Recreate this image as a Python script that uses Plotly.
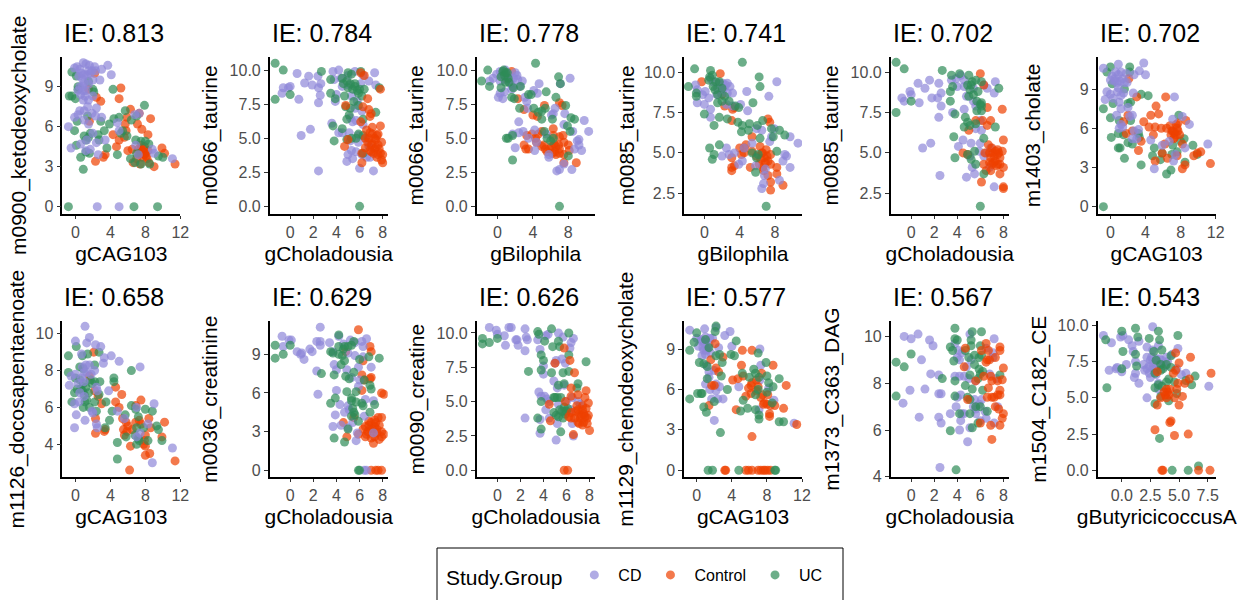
import plotly.graph_objects as go

GROUPS = ["CD", "Control", "UC"]
COLORS = {"CD": "#8F88D8", "Control": "#EE4000", "UC": "#2E8B57"}
TITLES = ["IE: 0.813", "IE: 0.784", "IE: 0.778", "IE: 0.741", "IE: 0.702", "IE: 0.702",
          "IE: 0.658", "IE: 0.629", "IE: 0.626", "IE: 0.577", "IE: 0.567", "IE: 0.543"]
X_NAMES = ["gCAG103", "gCholadousia", "gBilophila", "gBilophila", "gCholadousia", "gCAG103",
           "gCAG103", "gCholadousia", "gCholadousia", "gCAG103", "gCholadousia", "gButyricicoccusA"]
Y_NAMES = ["m0900_ketodeoxycholate", "m0066_taurine", "m0066_taurine", "m0085_taurine", "m0085_taurine", "m1403_cholate",
           "m1126_docosapentaenoate", "m0036_creatinine", "m0090_creatine", "m1129_chenodeoxycholate", "m1373_C363_DAG", "m1504_C182_CE"]

P01_CD = [(-0.1,10.4),(0.2,10.5),(0.5,10.3),(0.9,10.8),(1.2,10.7),(1.6,10.6),(2.2,10.5),(2.3,10.2),(3.0,10.3),(3.7,10.6),(4.1,9.9),(0.4,9.8),(0.8,9.6),(1.3,9.9),(1.7,10),(2,9.5),(2.8,9.5),(0.5,9.0),(1,9.3),(1.5,9.2),(0.3,8.7),(0.6,8.4),(0.9,8.0),(1.1,8.3),(1.5,8.0),(2.0,8.3),(2.4,7.4),(0.5,7.2),(1.0,7.2),(1.4,7.5),(1.9,7.0),(2.3,6.8),(3.0,6.7),(-0.1,6.7),(0.3,6.9),(1.0,6.5),(1.5,6.2),(-0.8,6.0),(1.3,5.0),(2.0,5.5),(3.4,5.0),(2.4,4.8),(1.7,4.3),(-0.5,4.4),(0.6,4.7),(1.2,4.2),(2.6,3.9),(4.8,6.3),(5,5.7),(7.3,7.0),(6.8,6.9),(6.9,4.6),(7.2,3.9),(8.8,4.3),(11.1,3.6),(9.0,4.0),(2.5,0),(5.0,0),(0.7,10.0),(1.0,9.9),(1.5,10.2),(1.9,10.2),(0.9,8.7),(1.2,8.7),(0.8,9.0)]
P01_CONTROL = [(2.2,10.0),(5.2,8.9),(5.0,8.1),(2.4,8.2),(2.9,7.9),(1.5,8.8),(6.3,7.3),(7.3,7.0),(8.6,6.6),(5.9,6.7),(5.7,6.2),(7.1,6.2),(1.6,6.4),(5.8,5.7),(7.6,5.8),(8.3,5.4),(4.3,5.4),(5.6,5.2),(5.0,5.0),(4.7,4.5),(6.0,4.2),(6.5,4.3),(7.2,4.3),(7.5,4.6),(7.8,4.3),(8.0,4.0),(8.3,4.2),(7.7,3.7),(8.2,3.6),(7.4,3.2),(7.0,3.6),(9,3.0),(8.4,3.3),(9.9,4.4),(10.2,4.0),(11.4,3.2),(3.4,3.9),(3.2,3.7),(2.3,3.4),(7.5,4.0),(7.9,3.9),(6.6,3.3),(7.5,4.3),(7.7,4.1),(8.1,3.8),(7.3,3.9),(7.9,4.5)]
P01_UC = [(-0.4,10.1),(2.0,8.8),(2.1,8.6),(4.3,8.8),(-0.7,8.3),(-0.4,8.3),(0,8.1),(0.3,8.8),(0.3,9.0),(1.5,9.4),(0.1,9.8),(7.9,7.6),(5.7,7.2),(6.4,6.5),(7.0,6.8),(4.4,6.6),(5.0,6.7),(0.2,6.4),(2.9,6.4),(1.4,6.8),(-0.1,5.7),(1.7,5.5),(2.6,5.4),(3.3,5.7),(3.9,6.2),(5.2,5.5),(5.4,5.7),(5.9,5.3),(1,5.3),(1.2,5.0),(1.5,5.2),(2.7,5.0),(0.1,4.6),(3.6,4.4),(1.2,4.1),(0.6,3.7),(1.6,4.0),(0.9,2.8),(4.8,3.9),(6.3,3.6),(6.8,3.3),(7.0,4.0),(7.5,3.2),(6.9,5.0),(7.5,4.9),(8,4.9),(8.4,4.7),(9.5,3.8),(10,3.7),(8.5,3.2),(-0.8,0),(6.7,0),(9.4,0)]

P02_CD = [(0.6,9.75),(1.6,9.55),(-0.7,8.3),(-0.6,8.7),(-0.15,8.7),(0,8.8),(0.75,7.85),(1.25,9.05),(1.9,8.9),(2.4,9.55),(2.65,9.0),(2.45,8.7),(2.6,8.15),(2.45,7.6),(0.95,5.2),(1.75,5.65),(2.45,2.6),(3.7,9.9),(4.2,10),(4.4,9.4),(5,9.6),(5.6,9.9),(6.3,9.6),(7.3,9.8),(6.8,9.2),(7.4,8.9),(3.8,9.3),(4.5,8.8),(5.1,8.9),(6.1,9.0),(4,8.2),(3.9,7.7),(5.3,8.1),(5.8,7.7),(5.6,7.2),(6.2,7.0),(5.2,6.5),(5.4,6.2),(5.7,6.3),(3.6,6.1),(6.3,6.0),(4.5,5.4),(5.1,5.4),(4.2,5.4),(5.9,5.2),(5.2,4.8),(5.9,4.7),(5.3,4.1),(5.7,4.0),(5.0,3.8),(4.9,3.3),(5.4,3.5),(6.2,3.8),(6.6,3.6),(6.9,3.6),(6,2.8),(7.2,2.6),(6.5,5),(6.8,4.4)]
P02_CONTROL = [(6.1,9.8),(6.4,9.6),(7.8,8.6),(6.7,7.9),(4.8,7.4),(6.3,7.3),(6.8,7.1),(7.0,6.8),(6.9,6.6),(6.1,6.2),(7.1,5.8),(6.6,5.6),(7.8,5.9),(6.5,5.0),(6.9,5.4),(7.3,5.0),(7.6,5.3),(7.9,4.7),(4.7,4.4),(5,4.9),(7,4.5),(7.4,4.3),(7.6,4.5),(6.5,4.3),(7.2,3.9),(7.8,3.9),(8.0,3.8),(7.9,3.4),(8,3.2),(6.2,3.2),(7.5,3.6),(6.2,3.9),(7,4.0),(6.8,5.0),(7.1,4.6),(7.4,4.9),(7.7,4.2),(7.3,4.2),(6.9,4.1),(7.5,5.2),(6.7,4.7),(7.1,5.3),(7.6,3.8)]
P02_UC = [(-1.3,10.5),(-0.6,10),(2.7,9.9),(5,9.8),(5.3,9.7),(6.1,9.9),(3.5,9.3),(4.5,9.4),(4.9,9.2),(5.6,9.0),(5.4,8.6),(6,8.6),(6.4,8.6),(5,8.7),(7.7,8.7),(-1.3,7.85),(0,8.2),(3.5,8.3),(4.7,8.1),(3.9,7.9),(4.8,7.3),(5.2,7.2),(5.5,7.7),(5.9,7.4),(5.1,6.7),(4.9,6.4),(6.3,6.4),(7.4,6.9),(3.7,5.9),(4.5,5.7),(5.3,5.0),(4.9,4.9),(5.7,5.0),(5.9,5.3),(6.3,5.2),(3.8,4.8),(6.3,3.9),(6,0),(5.6,8.8),(5.9,8.3),(6.2,8.1),(5.8,8.5),(5.2,9),(4.6,9.0)]

P03_CD = [(-0.9,9.2),(-0.5,9.4),(-0.1,9.7),(0.3,9.9),(0.9,10),(1.2,9.7),(2.0,9.8),(2.2,9.6),(2.8,9.2),(1.5,9.0),(0.8,9.3),(0.3,9.2),(1.7,8.8),(2.5,8.8),(0.1,8.0),(0.3,8.3),(0.6,7.9),(0.8,8.4),(1.6,8.6),(3.1,8.0),(3.3,7.7),(3.4,7.2),(4.1,8.5),(4.7,9.0),(4.5,8.3),(7.1,9.0),(8.2,9.4),(6.5,7.2),(6.3,6.8),(7.6,6.8),(7.5,6.0),(10.3,5.5),(9.8,6.3),(6.1,6.7),(8.5,5.5),(2.4,6.2),(2.4,5.4),(1.7,5.3),(2.9,5.5),(4.2,5.6),(3.5,5),(4.4,4.7),(2.0,4.3),(4.2,4.1),(5.5,5.3),(8.7,4.2),(9,4.8),(9.2,4.9),(9.5,4.1),(9.2,4.5),(5.8,3.8),(5.8,3.6),(6.7,2.6),(7,2.7),(8.4,2.7),(7.5,3.1),(1,9.5),(0.5,9.6),(1.4,9.3),(1.8,9.4),(2.3,9.3)]
P03_CONTROL = [(1.6,9.9),(1.0,9.4),(2.3,7.9),(3.0,7.1),(7,7.6),(7.3,7.4),(5.3,7.4),(4,6.7),(4.5,6.6),(3.9,5.3),(3.3,5.2),(4.3,5.0),(6.3,5.7),(6.3,5.2),(7,5.1),(7.4,5.2),(5,5.5),(4.6,5.3),(3,4.5),(3.2,4.2),(3.5,4.2),(4.4,4.7),(5,4.4),(5.4,4.2),(5.9,4.2),(6.4,4.6),(6.2,3.9),(7,4.2),(7.5,4.7),(8,4.5),(6.6,3.8),(7.5,3.8),(8.1,4.1),(7.5,3.2),(8.9,3.2),(7,3.9),(5.6,4.0),(6.1,4.4),(6.6,4.4),(6.5,4.0),(5.2,4.5),(6.9,4.5)]
P03_UC = [(-1.8,9.2),(-1.1,10),(-0.9,8.8),(0.7,10),(0.9,9.8),(0.4,9.5),(0.9,9.1),(1.2,9.4),(0.4,8.7),(2.6,8.8),(1.6,8.0),(1.9,7.9),(3.5,8.2),(3.8,8.2),(4.3,10.5),(6.9,9.5),(7.1,9.0),(5.5,8.4),(6.6,8.0),(7.7,7.4),(2.5,7.2),(4.1,7.2),(4.6,6.9),(5.0,7.0),(5.4,7.2),(5.0,6.4),(6.2,6.4),(8.3,6.5),(8.7,6.4),(7.9,5.9),(8.2,5.5),(1.7,5.2),(1.0,5.0),(1.2,5),(5.3,5.5),(5.6,5.0),(6,4.8),(6.3,5),(8,3.7),(1.7,3.4),(7,0),(0.6,9.9),(0.8,9.6),(1.1,9.8),(1.3,9.1),(1.8,8.7)]

P04_CD = [(-1,9.2),(-0.8,8.9),(-0.2,8.6),(0.1,8.8),(0.7,9.6),(1.0,9.4),(1.7,9.3),(2.4,9.2),(2.9,9.1),(3.2,8.7),(2,8.9),(2.6,8.7),(1.4,8.6),(-0.8,8.1),(0,8),(0.5,8.4),(0.7,7.7),(0.7,7.2),(3.2,7.9),(4.1,8.0),(4.9,7.6),(4.8,8.8),(7.3,8.5),(8.2,9.4),(2.5,8),(5.9,6.5),(6.5,6.4),(7.6,6.0),(7.4,5.7),(9.7,6.0),(10.6,5.6),(7.9,6.5),(2.5,5.3),(2.8,4.9),(3.4,5.0),(2.0,4.8),(4.5,5.3),(5.4,5.6),(4.3,4.5),(3.9,4.3),(5.8,4.2),(6.8,3.6),(6.7,3.1),(6.5,2.8),(8.5,3.3),(9.1,4.9),(9.3,4.8),(9.7,4.1),(8.9,4.5),(6.9,4.0),(1.5,9.0),(2.1,9.3),(2.6,9.3),(1.9,8.7),(2.2,9.0)]
P04_CONTROL = [(1.8,9.9),(-0.3,9.4),(2.0,8.6),(2.3,7.9),(3.2,7.7),(3.4,7.8),(3.1,7.0),(7.2,7.1),(7.4,6.9),(5.4,6.0),(4.7,5.5),(4.5,5.0),(4.0,5.3),(6.3,5.4),(6.5,5.0),(7.5,4.9),(6.8,4.7),(3.1,4.7),(4.2,4.9),(5.4,5.1),(5.9,4.8),(3.1,4.1),(3.1,3.9),(3.4,4.2),(5.2,4.1),(6.2,4.3),(7.5,4.3),(7.2,4.5),(8.2,4.1),(8.2,3.7),(7.2,3.6),(7.5,3.2),(8.9,3.0),(7.5,2.7),(6.6,4.1),(6.7,3.9),(6.6,5),(7,5.2),(6.9,4.4),(6.4,4.6),(7.1,4.8),(4.5,5.3)]
P04_UC = [(-1.8,9.1),(-1.1,10.2),(0.7,10.1),(-0.9,8.7),(-0.9,8.5),(0.5,9.5),(1.0,9.1),(1.7,9.4),(2.0,9.0),(1.5,8.6),(2.3,8.5),(4.3,10.6),(6.2,9.7),(6.3,9.1),(5.5,8.1),(1.5,8.1),(2.0,8.2),(2.8,8.2),(3.5,7.9),(3.9,7.8),(0,7.4),(1.7,7.2),(2.6,7.1),(1.1,6.7),(3.8,6.9),(4.3,6.7),(4.2,6.3),(5.1,6.8),(5.0,6.4),(6,6.7),(6.6,7.0),(7.6,6.5),(8.5,6.4),(9.1,6.1),(7.8,6.0),(6.3,5.9),(1.7,5.5),(0.6,5.3),(1.1,4.9),(0.9,4.6),(5.4,5.0),(5.9,4.7),(6.1,4.9),(8.2,5.1),(5.8,3.8),(7,1.7),(0.9,9.8),(0.6,9.7),(1.3,9.4),(1.2,8.9)]

P05_CD = [(-0.8,8.4),(-0.6,8.2),(-0.1,8.8),(0,8.6),(0.6,9.3),(1.6,9.5),(1.2,9.0),(2.4,9.3),(2.6,8.7),(1.8,8.4),(2.3,8.4),(0.7,8.1),(2.6,7.9),(2.4,7.2),(1.0,5.3),(1.7,5.6),(2.5,3.6),(3.5,9.5),(3.9,9.6),(4.3,9.8),(4.6,9.5),(4.0,9.1),(4.6,9.1),(5.4,9.0),(6.3,9.2),(6.6,9.0),(7.3,9.4),(7.2,8.7),(4.8,8.5),(5.4,8.2),(4.6,7.7),(3.6,7.5),(5.6,7.9),(6.0,7.0),(6.1,6.4),(5.6,6.5),(4.5,5.8),(5.2,5.6),(5.9,5.1),(4.1,5.4),(5.1,4.8),(6.3,4.8),(5.3,4.1),(5.5,3.7),(4.8,3.5),(6.8,4.1),(7.2,2.9),(6.9,5.3),(6.5,5.0),(6.0,5.6)]
P05_CONTROL = [(6,9.9),(6.3,9.2),(7.9,7.7),(6.6,7.8),(5.6,7),(6.2,7),(6.9,7.0),(6.6,6.7),(5,6.4),(8.0,5.8),(6.7,5.5),(7.1,5.0),(7.6,5.0),(7.9,5.1),(4.5,5.0),(4.9,4.9),(6.4,5.0),(6.9,4.7),(7.3,4.5),(7.7,4.7),(7.5,4.3),(8.0,4.1),(7.7,3.7),(6.9,3.9),(6.3,4.3),(6.1,3.2),(8.0,2.9),(8,2.8),(7.0,4.3),(6.5,3.9),(7.0,5.3),(7.3,5.1),(7.5,4.9),(7.2,4.8),(6.8,5.0),(7.4,4.2),(7.7,4.3),(7.1,4.4),(6.8,4.4),(7.5,5.2)]
P05_UC = [(-1.3,10.6),(-0.6,10.2),(2.7,10.1),(3.5,9.8),(4.2,9.9),(5.0,9.8),(6.1,9.4),(5.3,9.4),(4.9,9.2),(3.6,9.1),(7.6,9.0),(5.8,8.8),(3.4,8.8),(5,8.5),(5.4,8.6),(6.0,8.0),(6.1,8.1),(5.7,7.6),(6.1,7.6),(-1.3,7.5),(0,8.2),(3.4,8.2),(3.8,7.4),(4.7,7.2),(4.9,6.9),(5.1,6.7),(4.6,6.6),(5.6,6.8),(7.3,6.6),(6.3,5.9),(3.7,6.0),(3.8,4.7),(5.5,5.1),(4.9,4.9),(5.2,4.6),(5.6,4.3),(6.3,3.7),(6,1.7),(5.2,9.2),(5.6,9.5),(5.1,8.9),(5.7,8.2),(6.1,7.9)]

P06_CD = [(-0.8,10.6),(0.9,10.9),(3.8,11),(3.3,10.4),(4,10.1),(0.2,10.0),(0.6,10.3),(1.2,10.3),(1.8,10.2),(2.7,10.1),(0,9.7),(0.8,9.5),(1.4,9.8),(1.9,9.5),(-0.4,8.8),(0,8.6),(0.8,8.8),(1.5,8.7),(2.6,8.7),(-0.6,8.2),(0.3,8.3),(1.0,8.0),(2,7.6),(1.2,7.5),(0.7,7.0),(2.5,7.0),(2.2,6.9),(1.2,6.3),(1.0,6.0),(1.4,6.1),(2.7,5.8),(3.2,5.9),(2.5,5.2),(3.0,5.2),(7.3,8.4),(8.2,6.9),(9,6.3),(4.6,5.1),(5.9,4.7),(6.7,5),(8.5,4.5),(11.1,4.8),(7.4,4.0),(7.2,3.5),(5.0,2.9),(7.1,6.7),(0.5,9.8),(0.9,10.1),(1.1,9.6),(1.6,9.5),(0.9,9.1),(1.2,8.5),(0.5,9.6)]
P06_CONTROL = [(2.1,9.8),(6.3,8.4),(3,8.4),(5.2,7.7),(2.0,7.0),(5.5,7.1),(4.6,7.0),(3.8,6.5),(1.5,6.5),(8.6,6.6),(7.7,6.4),(4.4,6.1),(5.1,6.1),(5.8,6.0),(6.4,6),(7.1,5.8),(7.6,6.0),(1.8,5.6),(2.5,5.8),(6.9,5.5),(7.3,5.3),(7.9,5.5),(4.9,5.5),(3.5,5),(6.2,4.8),(5.9,4.1),(3.2,4.3),(8.2,4.8),(9.5,3.9),(9.9,4.1),(10.3,4.2),(11.4,3.3),(5.1,3.5),(6.5,3.7),(8.5,3.2),(8.2,2.9),(7.6,3.9),(7,5.8),(7.3,5.7),(7.5,5.5),(7.2,5.2),(6.8,6.2),(7.7,5.8),(7.5,6.3)]
P06_UC = [(0,10.7),(-0.4,10.3),(2.2,10.7),(2.2,10.3),(0.2,9.4),(1.6,9.0),(3.5,8.6),(4.3,8.5),(2.3,8.0),(2.0,7.9),(0.3,7.9),(-0.8,7.5),(0,6.8),(1,6.6),(2.3,6.6),(0.1,5.3),(0.9,5.6),(1.5,5.5),(3.2,5.6),(3.3,5.3),(2,4.9),(2.5,4.8),(1.1,4.5),(0.9,4.5),(1.6,3.7),(3.5,3.2),(5,4.5),(4.8,3.9),(5.9,4.1),(5.7,3.6),(7.8,7.0),(6.4,2.5),(6.9,2.8),(7.1,4.7),(8,5),(8.4,5.2),(9.4,4.7),(9.9,4.0),(8.5,3.4),(7.6,4.2),(-0.8,0),(7,4)]

P07_CD = [(1.1,10.4),(1.6,9.8),(0,9.6),(1.3,9.5),(2.3,9.4),(2.9,9.3),(3.3,8.7),(4.1,8.8),(5.0,8.5),(7.4,8.2),(3.2,8.4),(0.7,8.9),(1.2,8.3),(1.6,8.3),(2.2,8.0),(-0.5,7.7),(0,7.8),(0.3,7.3),(-0.7,7.2),(1,7.4),(2.4,7.1),(3.8,6.9),(0.5,6.8),(1,6.6),(2.5,6.9),(-0.1,6.2),(0.4,6.3),(1.9,5.8),(2.0,5.7),(0.1,5.6),(1.1,5.3),(-0.1,4.9),(2.4,5.1),(2.5,4.9),(4.8,5.8),(5.6,5.4),(7,6),(9.0,6.2),(8.3,5.1),(7.0,4.4),(7.4,4.6),(11.1,3.8),(8.8,3.0),(0.8,8.2),(1.3,7.9),(1.0,7.9),(0.7,7.6),(1.8,7.8)]
P07_CONTROL = [(2.1,9.0),(4.6,7.1),(5.3,6.7),(4.6,6.3),(5.0,6),(3,6.2),(2.6,6.6),(1.6,7.7),(2.2,6.9),(7.5,6.4),(6.9,6.1),(5.4,5.4),(5.8,5.2),(7.3,5.3),(8.4,5.4),(10.2,5.2),(5.5,4.8),(6.5,4.8),(8.6,4.9),(5.6,4.5),(3.4,4.8),(3.3,4.7),(2.3,4.6),(7.9,4.2),(8.0,3.9),(6.3,3.9),(7.8,4.0),(9.9,4.4),(8.5,3.5),(8.0,3.4),(11.4,3.1),(6.2,2.6),(2.3,5.4),(6.9,5.2),(5.9,4.7),(7.5,5.1),(8,4.5),(6.0,5.0)]
P07_UC = [(-0.8,8.8),(0.1,9.3),(0.8,8.8),(1.4,8.9),(2.7,9.0),(6.4,8.0),(-0.8,7.9),(0.5,8.2),(0.9,8.1),(2.2,8.3),(4.4,7.6),(0.0,7.6),(0.2,7.0),(1.7,7.5),(2.2,7.4),(2.8,7.4),(4.4,7.4),(0.8,6.9),(1.5,6.8),(2.7,6.7),(-0.1,6.8),(1.0,6.7),(-0.4,6.3),(0.9,6.0),(1.3,6.4),(3.5,6.3),(2.4,5.8),(4.2,5.8),(3.9,5.3),(3.4,4.9),(5.7,5.6),(6.4,6.1),(6.9,5.9),(8.0,5.9),(8.8,5.8),(7.2,5.5),(9.3,5.0),(9.5,4.8),(7,4.9),(5.8,4.4),(7.2,4.3),(8.3,4.2),(7.0,4.0),(9.9,4.2),(4.8,4.1),(4.8,3.2),(0.5,7.5),(0.9,7.3),(1.2,7.1),(1.9,7.3),(0.6,7.0),(1.1,6.3),(1.6,6.0),(2.2,6.3),(7.3,4.2),(6.8,4.5),(7.8,4.9)]

P08_CD = [(-0.6,9.6),(-0.7,10.4),(-0.1,10.1),(0.1,10.1),(0.6,9.2),(0.9,9.0),(1.0,9.1),(1.2,8.6),(1.7,9.4),(1.9,9.2),(2.3,10),(2.6,10),(2.6,9.7),(2.6,11.1),(3.4,9.9),(2.3,7.7),(2.4,5.9),(3.7,9.2),(4.2,10.4),(4.6,9.8),(5.2,10.1),(5.6,9.9),(6.2,10.0),(6.6,10.2),(6.3,9.6),(5,9.1),(5.6,8.9),(6.3,8.8),(3.8,8.2),(4,7.8),(4.9,7.8),(5.9,8.0),(7,8.0),(5.3,7.2),(6.0,7.0),(5.9,6.5),(4,6.2),(4.3,5.1),(6.5,5.5),(7.2,5.4),(5,5.0),(4.7,4.5),(5.1,4.7),(3.9,4.3),(6.4,4.2),(5.4,3.7),(4.4,3.5),(3.7,3.4),(5,3.3),(5.8,2.9),(5.7,2.3),(7.2,2.9),(6.4,0),(6.6,0)]
P08_CONTROL = [(5.9,10.9),(6.9,9.6),(7,9.2),(4.8,9.2),(6.3,8.5),(6.2,7.4),(6.4,7.0),(6.9,7.1),(7.0,7.2),(7.9,6.0),(8.1,5.9),(6.2,6.2),(4.6,3.7),(5.5,4.1),(4.9,2.6),(5.9,2.8),(6.5,3.4),(6.5,2.6),(7,3.7),(7.4,3.7),(7.6,4.1),(7.9,4.1),(6.9,3.2),(7.5,3.2),(7.9,3.0),(8.1,2.8),(7.3,2.6),(7.7,2.4),(7.2,2.1),(6.6,2.8),(7,0),(7.4,0),(7.6,0),(7.9,0),(6.8,3.5),(6.3,3.2),(6.7,3.0),(7.1,3.2),(7.3,3.4),(7.5,2.9),(7.7,3.5),(7.9,2.6),(7,2.5),(6.8,3.8),(7.3,3.9)]
P08_UC = [(-1.3,9.7),(-1.3,8.7),(-0.6,9.0),(0,9.7),(2.7,7.5),(3.5,9.2),(3.7,9.1),(4.2,9.6),(4.2,10.5),(4.7,9.6),(5.3,9.7),(5.5,10),(4.5,8.9),(4.7,8.5),(6.0,8.6),(7.7,8.7),(6.8,8.8),(4.4,8.2),(3.8,7.4),(4.8,7.3),(5.1,7.1),(5.5,7.6),(6.4,7.0),(6.9,6.6),(7.0,6.3),(4.9,6.1),(5.7,6.1),(5.3,5.6),(3.9,5.6),(3.5,5.2),(5.7,5.3),(5.4,4.8),(6.2,5.2),(7.3,5.1),(6.9,4.5),(5.3,4.2),(5.6,4.3),(5.9,3.8),(5.0,3.2),(4.7,2.2),(3.8,2.5),(6,0),(5.9,0),(4.6,9.4),(5.0,9.6),(4.2,9.0),(5.3,5.4),(5.5,4.5),(6.3,5.0)]

P09_CD = [(-0.7,10.4),(-0.1,10.2),(0,9.9),(0.6,9.8),(1,10.4),(1.2,10.4),(1.6,9.5),(1.7,9.5),(0.7,9.1),(1.8,9.1),(2.4,8.7),(2.4,10.3),(2.5,9.7),(2.6,9.5),(3.5,9.5),(3.7,8.8),(4.2,9.8),(4.4,9.9),(5.3,10),(5.7,9.7),(6.6,9.6),(6.4,9.3),(6.3,8.9),(5.1,8.0),(5.0,7.8),(5.6,8.1),(5.9,7.8),(4.0,7.6),(4,7),(4.9,6.5),(5.2,6.0),(5.8,6.2),(6.5,5.3),(3.6,5.7),(3.8,5.4),(4.1,5.4),(4.3,5.2),(4.5,5),(6,5.0),(7,5.0),(5.3,4.8),(4.2,4.4),(2.4,3.8),(4.5,3.8),(3.7,3.7),(5.2,3.4),(3.7,2.7),(5.1,2.2),(6.6,2.5),(6.5,3.4),(5.8,4.3),(6.4,4.4),(7.2,4.8)]
P09_CONTROL = [(5.8,8.9),(6.3,8.0),(5,7.8),(6.7,7.1),(6.4,6.0),(7.0,5.5),(7.7,5.8),(7.6,5.3),(7.9,4.9),(7.4,4.7),(6.4,5.4),(5.9,5.0),(4.5,4.8),(7,4.4),(7.5,4.1),(7.9,4.0),(7.3,4.0),(6.2,3.9),(6.7,3.8),(7.0,3.5),(7.5,3.5),(7.8,3.4),(7.4,3.3),(8,2.9),(6.6,2.6),(4.6,3.6),(5.8,0),(6.1,0),(6.4,4.2),(6.8,4.3),(7.1,4.1),(7.4,4.4),(7.6,3.9),(7.2,3.8),(6.9,4.7),(7.7,4.5),(7.8,3.8),(6.4,3.8),(7.1,3.4)]
P09_UC = [(-1.3,9.6),(-1.3,9.2),(-0.7,9.3),(0,9.6),(2.7,7.2),(3.8,7.3),(3.5,10.1),(4.7,10.3),(6.2,10.0),(3.6,9.9),(4.1,9.4),(4.8,9.0),(5.3,9.4),(5.4,9.0),(3.8,8.4),(6.2,8.4),(4.0,8.0),(7.7,7.9),(6.2,7.2),(4.7,7.1),(5.7,7.1),(5.3,6.2),(5.8,6.3),(7,6.3),(6.9,6.0),(5,5.3),(5.5,5.3),(3.8,5.0),(4.9,4.2),(5.8,4.6),(6.1,4.5),(5.3,3.9),(5.7,3.8),(3.5,3.8),(3.8,3.0),(5.5,2.8),(5.6,4.3),(5.9,4.1),(5.1,4.0),(5.4,4.4),(6.0,4.3),(4.9,5.3),(5.2,5.3)]

P10_CD = [(-0.8,10.4),(0.9,10.5),(2.2,10.6),(3.8,10.3),(3.2,10),(0,9.8),(0.5,9.7),(1,9.9),(1.8,9.8),(4,9.2),(0.2,9.2),(0.8,8.9),(1.4,9.3),(2.5,9.1),(0.6,8.5),(1,8.6),(7.2,9.0),(7.3,7.8),(1.1,7.8),(1.4,7.3),(2,7.4),(1,6.4),(2.2,6.4),(2.6,6.2),(1.5,6),(2.2,5.9),(3,5.3),(2.4,5.3),(1.7,5.3),(2.0,3.7),(4.8,6.2),(8.8,5.2),(7.1,4.5),(11.1,3.5),(8.2,6.1),(7.2,6.7),(1.4,6.9),(0.5,9.6),(0.9,9.4),(1.2,9.0),(1.5,9.8),(1.1,8.9),(0.7,9.1),(1.6,8.7),(1.0,9.5)]
P10_CONTROL = [(2.1,9.4),(5.2,8.9),(6.3,8.9),(3.0,8.4),(1.6,8.2),(5.1,7.8),(8.7,7.8),(2.2,7.6),(2.5,7.3),(7.4,7.2),(2.0,6.3),(1.7,6.3),(4.1,6.7),(4.7,6.8),(5.3,7),(6.2,6.3),(6.8,6.7),(5.9,6.1),(10.2,6.3),(8.1,5.6),(5.6,5.5),(6.2,5.7),(7.3,5.4),(7.7,5.0),(8.0,4.9),(1.4,4.8),(4.5,4.5),(8.4,4.8),(8.9,4.8),(9.9,4.6),(8.3,4.2),(8.3,4.0),(11.4,3.4),(6.3,2.5),(3.2,0),(3.3,0),(5.6,0),(5.9,0),(6.3,0),(7.0,0),(7.3,0),(7.6,0),(7.8,0),(8.1,0),(8.4,0),(6.8,5.9),(7.5,5.6),(7.0,6.2),(6.3,6.5),(7.6,4.9)]
P10_UC = [(0,10.2),(2.2,10.7),(2.1,10.3),(-0.8,8.9),(-0.3,9.5),(1.0,9.7),(1.4,9.1),(4.5,9.6),(3.9,8.6),(4.3,8.5),(2.2,8.5),(2.6,8.6),(2.9,8.0),(0.3,8.0),(0.8,7.9),(1.2,7.7),(7.0,8.7),(7.9,8.0),(6.5,7.5),(5.2,7.2),(6.7,7.2),(1.2,6.8),(2.8,7.0),(6.0,6.9),(7.1,6.9),(8,7.0),(9.4,6.8),(8.2,6.5),(8.7,6.2),(3.5,6.0),(7.0,6.0),(6.7,5.6),(8,5.8),(-0.8,5.3),(0.1,5.7),(0.5,5.7),(0.6,5.7),(2,5.1),(5.3,5.2),(8.6,5.0),(0.8,4.7),(1.1,4.3),(5.8,4.6),(5,4.4),(6.7,4.5),(7.1,4.1),(7.1,3.8),(9.4,3.6),(9.9,3.6),(2.7,2.8),(1.3,0),(1.8,0),(4.8,0),(8.9,0),(9,0)]

P11_CD = [(-0.6,10),(0,9.9),(0.6,10.1),(1.6,9.85),(1.9,9.6),(0.9,9.0),(1.7,8.4),(2.4,8.35),(-0.1,7.7),(1.2,7.75),(2.4,7.55),(2.6,7.55),(-0.7,7.15),(0.7,6.55),(2.4,6.55),(2.6,6.3),(2.5,4.4),(3.8,9.7),(4.1,9.4),(4.4,9.3),(5.1,10.1),(6.5,9.5),(7.2,9.9),(7.1,9.3),(4.8,8.7),(5.2,9.0),(7.1,9.1),(3.8,8.3),(4.2,8.3),(4.6,8.3),(6.8,8.4),(7.4,8.2),(5,8.2),(5.6,8.1),(4.0,7.4),(4.3,7.5),(3.9,7.0),(3.4,6.7),(4.4,6.7),(4.6,6.7),(5.4,7.0),(5.9,7.1),(6.1,7.3),(4.3,6.4),(5.6,6.9),(6.4,6.8),(6.5,6.5),(7.2,6.3),(7.5,7.0),(4.2,6),(5.1,6.1),(4.9,5.5),(6.0,6.4),(5.5,7.3),(4.0,9.1),(4.2,9.0),(5.6,6.7)]
P11_CONTROL = [(4.7,9.5),(6.1,9.4),(6.5,9.7),(6.7,9.4),(7.7,9.55),(7.7,9.4),(6.6,9.0),(7.3,9.1),(8.0,8.65),(6.9,8.3),(5.6,8.1),(6.3,8.3),(6.7,7.8),(7.5,8.1),(7.9,8.15),(7.7,7.7),(6.6,7.4),(7.0,7.4),(7.7,7.5),(7.3,7.0),(7.6,6.9),(8.0,6.7),(6.0,6.3),(7.9,6.5),(7.7,6.2),(6.9,6.2),(7,5.6),(4.9,7.3),(7.2,7.4),(4.6,8.7),(6.8,9.0),(7.0,8.1),(7.5,7.5),(6.5,8.9)]
P11_UC = [(-1.3,8.9),(-0.6,8.7),(0,9.25),(-1.3,7.45),(2.7,8.2),(3.8,10.35),(5.3,10.2),(6.1,10.2),(3.8,9.9),(4,9.85),(5.2,9.85),(3.4,9.55),(3.6,9.4),(4.7,9.4),(6,9.6),(5.0,9.1),(6.1,9.2),(3.7,8.95),(5.5,8.8),(5.9,8.6),(6.2,8.5),(3.8,8.1),(5.1,8.35),(7.7,8.35),(4.7,7.9),(5.3,7.75),(6.2,7.7),(3.8,7.45),(4.9,7.4),(5.6,7.0),(6.0,7.0),(4.2,6.7),(5.1,6.7),(6.6,6.8),(3.4,5.97),(5.3,6.1),(5.8,6.3),(3.9,4.3),(5.9,9.1),(5.2,9.6),(5.5,9.2),(5.8,8.2),(6.0,8.4),(5.1,7.3)]

P12_CD = [(-1.6,9.3),(-0.9,8.8),(-0.1,9.2),(0.1,9.3),(2.7,9.9),(0.6,9),(0.9,8.6),(1.0,8.2),(1.5,8.9),(2.2,8.5),(2.7,8.3),(4.9,8.4),(3.2,8.6),(3.9,7.8),(4.4,8.0),(2.2,7.8),(2.5,7.6),(3,7.7),(3.3,7.4),(4,7.5),(1.2,7.5),(0.4,7.3),(-0.4,7.1),(-0.5,7.0),(-1.1,6.9),(0,6.8),(1.2,6.7),(1.1,6.4),(2,6.9),(2.4,6.7),(2.7,7.0),(3,6.6),(1.5,6),(2.5,6.4),(3.2,6.0),(5.2,6.6),(5.6,6.7),(7.6,5.8),(3.2,5.6),(2.2,5.0),(4.8,7.0),(1.9,7.3),(2.4,7.2),(2.7,7.4),(3.0,7.2),(2.2,7.0),(3.3,7.7),(2.6,7.8),(2.9,6.9),(3.5,7.6),(3.8,7.2)]
P12_CONTROL = [(6.0,7.8),(7.8,6.7),(5,7.4),(4.7,8.1),(4.7,6.9),(4.5,6.7),(5.9,6.3),(3.1,6.8),(3.9,5.6),(3.7,5.4),(4.1,5.2),(3.9,5.0),(3.4,5.0),(4.8,5.6),(4.6,5.0),(5.3,5.1),(3.1,4.5),(5.0,4.5),(4.2,3.3),(4.3,3.4),(2.9,2.8),(4.6,2.4),(5.8,2.5),(3.5,0),(3.6,0),(6.7,0),(7.7,0),(5.5,6.0),(4.9,6.0),(3.8,5.2),(4,5.4),(4.2,5.6)]
P12_UC = [(-1.4,9.0),(0,9.6),(1.2,9.8),(3.2,9.6),(4.9,9.3),(1.4,9.2),(2.4,9.1),(3.3,9.0),(0.1,8.2),(1.2,8.0),(2.8,8.2),(3.5,8.3),(-1.3,5.7),(0,7.0),(1.3,7.2),(4.3,7.9),(3.4,7.3),(3.9,7.3),(2.9,6.7),(3.4,6.9),(4.1,6.3),(5.6,6.2),(6.4,6.5),(6.1,5.9),(2.9,5.7),(3.5,5.8),(4.8,5.3),(3.4,5.1),(4.1,4.8),(2.9,4.6),(3.3,2.2),(4.4,0),(5.8,0),(6.7,0.3),(3.9,6.1),(3,7.6),(4.6,6.1),(3.6,7.0),(4.3,7.1),(3.2,5.9)]

SERIES = [
    {"CD": P01_CD, "Control": P01_CONTROL, "UC": P01_UC},
    {"CD": P02_CD, "Control": P02_CONTROL, "UC": P02_UC},
    {"CD": P03_CD, "Control": P03_CONTROL, "UC": P03_UC},
    {"CD": P04_CD, "Control": P04_CONTROL, "UC": P04_UC},
    {"CD": P05_CD, "Control": P05_CONTROL, "UC": P05_UC},
    {"CD": P06_CD, "Control": P06_CONTROL, "UC": P06_UC},
    {"CD": P07_CD, "Control": P07_CONTROL, "UC": P07_UC},
    {"CD": P08_CD, "Control": P08_CONTROL, "UC": P08_UC},
    {"CD": P09_CD, "Control": P09_CONTROL, "UC": P09_UC},
    {"CD": P10_CD, "Control": P10_CONTROL, "UC": P10_UC},
    {"CD": P11_CD, "Control": P11_CONTROL, "UC": P11_UC},
    {"CD": P12_CD, "Control": P12_CONTROL, "UC": P12_UC},
]
DRAW_ORDERS = [
    ("Control", "UC", "CD"), ("CD", "UC", "Control"), ("Control", "CD", "UC"), ("Control", "CD", "UC"),
    ("CD", "Control", "UC"), ("UC", "Control", "CD"), ("Control", "UC", "CD"), ("Control", "CD", "UC"),
    ("CD", "UC", "Control"), ("CD", "Control", "UC"), ("CD", "UC", "Control"), ("CD", "UC", "Control"),
]
X_TICKS = [[0,4,8,12],[0,2,4,6,8],[0,4,8],[0,4,8],[0,2,4,6,8],[0,4,8,12],
           [0,4,8,12],[0,2,4,6,8],[0,2,4,6,8],[0,4,8,12],[0,2,4,6,8],[0,2.5,5,7.5]]
Y_TICKS = [[0,3,6,9],[0,2.5,5,7.5,10],[0,2.5,5,7.5,10],[2.5,5,7.5,10],[2.5,5,7.5,10],[0,3,6,9],
           [4,6,8,10],[0,3,6,9],[0,2.5,5,7.5,10],[0,3,6,9],[4,6,8,10],[0,2.5,5,7.5,10]]
X_RANGES = [(-1.5,12),(-1.77,8.43),(-2.35,10.98),(-2.3,11.05),(-1.77,8.46),(-1.45,12),
            (-1.5,12),(-1.77,8.43),(-1.8,8.45),(-1.45,12),(-1.77,8.46),(-2.1,8.2)]
Y_RANGES = [(-0.55,11.25),(-0.56,10.98),(-0.56,10.98),(1.22,10.95),(1.22,10.95),(-0.56,11.48),
            (2.21,10.69),(-0.54,11.58),(-0.51,10.87),(-0.52,11.08),(3.98,10.66),(-0.48,10.3)]
Y_STANDOFF = [12, 6, 7, 4, 6, 33, 5, 28, 6, 27, 19, 5]

W, H = 1239, 600
LEFTS = [62.3, 269.7, 476.7, 684.0, 890.7, 1097.7]
PANEL_W = 118
ROWS = [(56.7, 214.0), (321.0, 477.3)]

fig = go.Figure()
layout = {}
shown = set()
for i in range(12):
    n = "" if i == 0 else str(i + 1)
    left = LEFTS[i % 6]
    top, bottom = ROWS[i // 6]
    layout[f"xaxis{n}"] = dict(
        domain=[left / W, (left + PANEL_W) / W], range=list(X_RANGES[i]), anchor=f"y{n}",
        tickvals=X_TICKS[i], tickformat=".1f" if i == 11 else "d",
        title=dict(text=X_NAMES[i], font=dict(size=21, color="black"), standoff=6),
    )
    layout[f"yaxis{n}"] = dict(
        domain=[1 - bottom / H, 1 - top / H], range=list(Y_RANGES[i]), anchor=f"x{n}",
        tickvals=Y_TICKS[i], tickformat=".1f" if 2.5 in Y_TICKS[i] else "d",
        title=dict(text=Y_NAMES[i], font=dict(size=21, color="black"), standoff=Y_STANDOFF[i]),
    )
    for g in DRAW_ORDERS[i]:
        pts = SERIES[i][g]
        fig.add_trace(go.Scatter(
            x=[p[0] for p in pts], y=[p[1] for p in pts], mode="markers", name=g,
            xaxis=f"x{n}", yaxis=f"y{n}", legendgroup=g, showlegend=g not in shown,
            legendrank=GROUPS.index(g) + 1,
            marker=dict(size=9, color=COLORS[g], opacity=0.7, line=dict(width=0)),
        ))
        shown.add(g)
    fig.add_annotation(
        text=TITLES[i], xref=f"x{n} domain", yref=f"y{n} domain", x=0, y=1,
        xanchor="left", yanchor="bottom", yshift=8, showarrow=False,
        font=dict(size=25, color="black"),
    )

fig.update_layout(**layout)
fig.update_xaxes(showgrid=False, zeroline=False, showline=True, linecolor="black", linewidth=1.5,
                 ticks="outside", ticklen=3, tickwidth=1, tickcolor="#333333",
                 tickfont=dict(size=16, color="#4D4D4D"), automargin=False)
fig.update_yaxes(showgrid=False, zeroline=False, showline=True, linecolor="black", linewidth=1.5,
                 ticks="outside", ticklen=4, tickwidth=1, tickcolor="#333333",
                 tickfont=dict(size=16, color="#4D4D4D"), automargin=False)
fig.add_shape(type="rect", xref="paper", yref="paper", x0=437 / W, x1=843 / W,
              y0=-0.05, y1=1 - 548 / H, line=dict(color="black", width=1),
              fillcolor="white", layer="below")
fig.update_layout(
    width=W, height=H, margin=dict(l=0, r=0, t=0, b=0), paper_bgcolor="white", plot_bgcolor="white",
    font=dict(family="Liberation Sans, Arial, sans-serif"),
    legend=dict(
        orientation="h", x=444 / W, xanchor="left", y=1 - 558 / H, yanchor="top",
        borderwidth=0, bgcolor="rgba(0,0,0,0)", itemwidth=38,
        title=dict(text="Study.Group", font=dict(size=21, color="black"), side="left"),
        font=dict(size=16, color="black"), itemsizing="trace", traceorder="normal",
    ),
)
fig.write_html("out.html", config={"displayModeBar": False},
               post_script="document.body.style.margin='0';")
